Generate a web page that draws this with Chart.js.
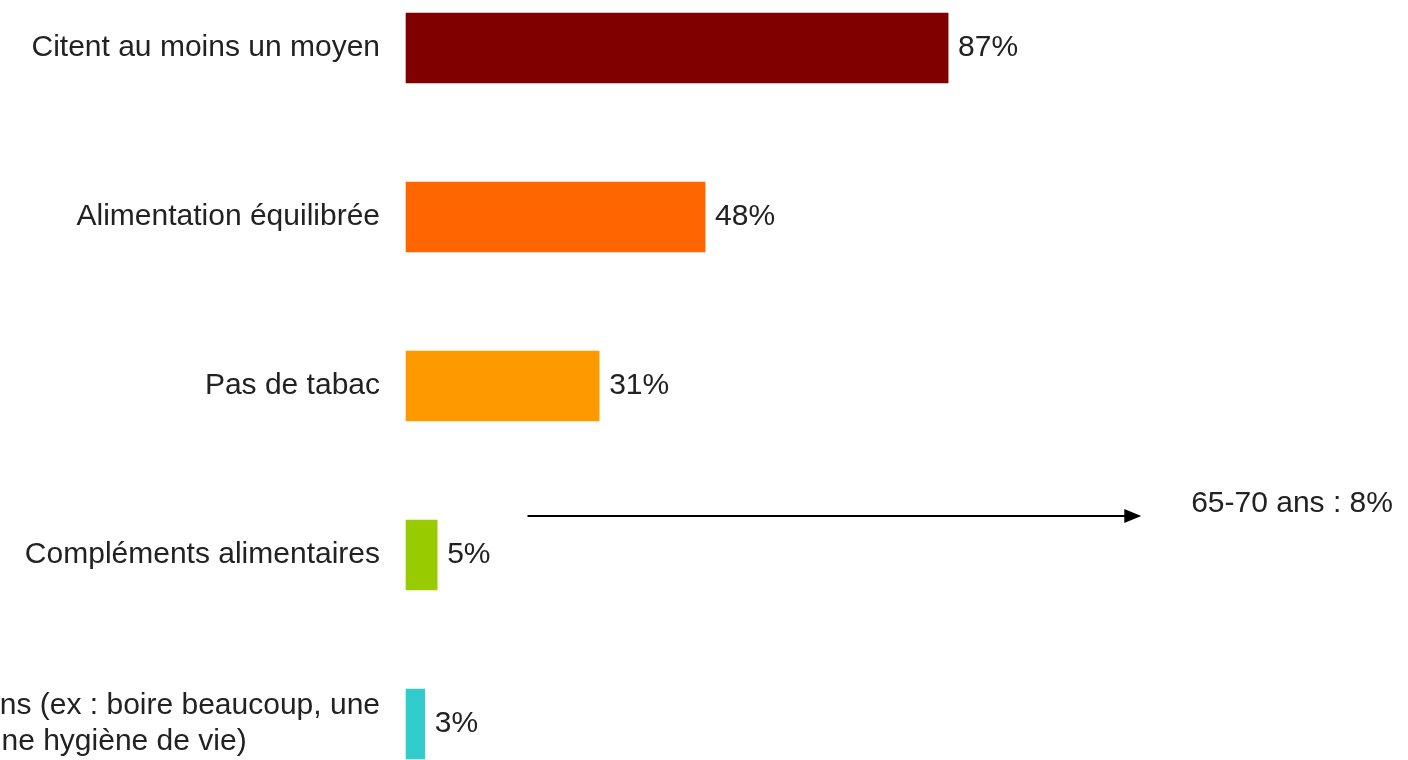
<!DOCTYPE html>
<html>
<head>
<meta charset="utf-8">
<script src="https://cdn.jsdelivr.net/npm/chart.js@4"></script>
<style>
    html, body { margin: 0; padding: 0; background: #fff; }
    #wrap { width: 1408px; height: 760px; position: relative; }
</style>
</head>
<body>
<div id="wrap"><canvas id="chart"></canvas></div>
<script>
// Data
const categories = [
    'Citent au moins un moyen',
    'Alimentation équilibrée',
    'Pas de tabac',
    'Compléments alimentaires',
    ['Autres moyens (ex : boire beaucoup, une', 'bonne hygiène de vie)' + '\u00A0'.repeat(16)]
];
const values = [87, 48, 31, 5, 3];
const barColors = ['#800000', '#FF6600', '#FF9900', '#99CC00', '#33CCCC'];

// Side note on "Compléments alimentaires"
const noteIndex = 3;
const noteText = '65-70 ans : 8%';
const noteArrowFrom = 19.5;
const noteArrowTo = 118;
const noteTextAt = 126;

const fontFamily = '"Liberation Sans", Arial, sans-serif';
const textColor = '#222';

// Value labels at the end of each bar
const valueLabels = {
    id: 'valueLabels',
    afterDatasetsDraw(chart) {
        const ctx = chart.ctx;
        const meta = chart.getDatasetMeta(0);
        ctx.save();
        ctx.font = '30px ' + fontFamily;
        ctx.fillStyle = textColor;
        ctx.textAlign = 'left';
        ctx.textBaseline = 'middle';
        meta.data.forEach((bar, i) => {
            ctx.fillText(values[i] + '%', bar.x + 10, bar.y);
        });
        ctx.restore();
    }
};

// Arrow + note text
const noteArrow = {
    id: 'noteArrow',
    afterDatasetsDraw(chart) {
        const ctx = chart.ctx;
        const xs = chart.scales.x;
        const bar = chart.getDatasetMeta(0).data[noteIndex];
        const y = bar.y - bar.height / 2 - 4;
        const x1 = xs.getPixelForValue(noteArrowFrom);
        const x2 = xs.getPixelForValue(noteArrowTo);
        ctx.save();
        ctx.strokeStyle = '#000';
        ctx.fillStyle = '#000';
        ctx.lineWidth = 2;
        ctx.beginPath();
        ctx.moveTo(x1, y);
        ctx.lineTo(x2 - 14, y);
        ctx.stroke();
        ctx.beginPath();
        ctx.moveTo(x2, y);
        ctx.lineTo(x2 - 17, y - 7);
        ctx.lineTo(x2 - 17, y + 7);
        ctx.closePath();
        ctx.fill();
        ctx.font = '30px ' + fontFamily;
        ctx.fillStyle = textColor;
        ctx.textAlign = 'left';
        ctx.textBaseline = 'middle';
        ctx.fillText(noteText, xs.getPixelForValue(noteTextAt), y - 12);
        ctx.restore();
    }
};

const ctx = document.getElementById('chart').getContext('2d');
const chart = new Chart(ctx, {
    type: 'bar',
    data: {
        labels: categories,
        datasets: [{
            data: values,
            backgroundColor: barColors,
            borderWidth: 0,
            barThickness: 70,
            clip: false
        }]
    },
    options: {
        indexAxis: 'y',
        responsive: true,
        maintainAspectRatio: false,
        animation: false,
        layout: {
            padding: { top: 48, bottom: 36, left: 0, right: 5 }
        },
        scales: {
            x: {
                display: false,
                min: 0,
                max: 160
            },
            y: {
                offset: false,
                grid: { display: false, drawTicks: false },
                border: { display: false },
                ticks: {
                    padding: 26,
                    color: textColor,
                    font: { family: fontFamily, size: 30, lineHeight: 1.2 }
                },
                afterFit(scale) {
                    scale.width = 406;
                    // labels may run past the canvas edges, as in the original
                    scale.paddingTop = 0;
                    scale.paddingBottom = 0;
                }
            }
        },
        plugins: {
            legend: { display: false },
            tooltip: { enabled: false }
        }
    },
    plugins: [valueLabels, noteArrow]
});
</script>
</body>
</html>
